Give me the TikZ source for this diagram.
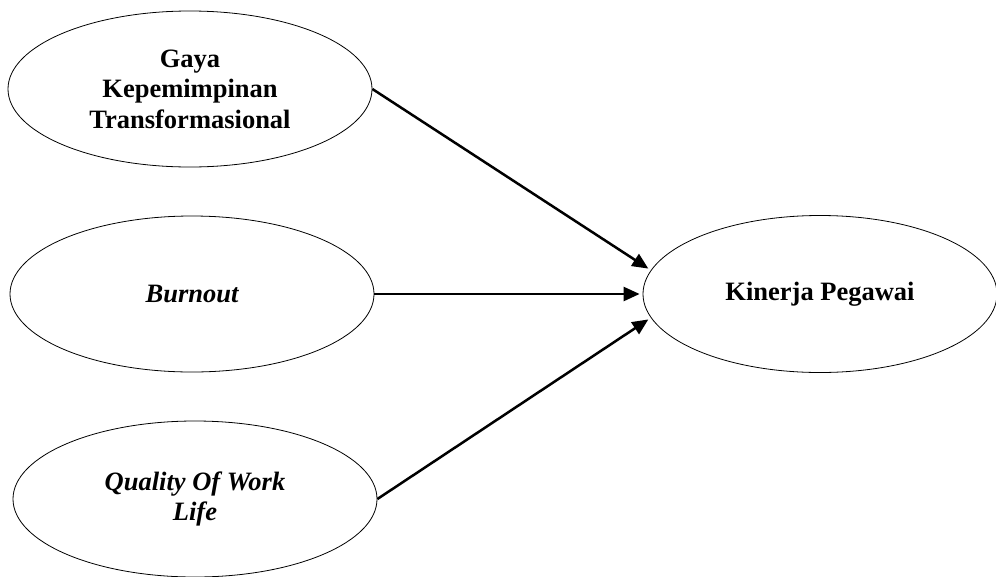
\documentclass[tikz,border=0pt]{standalone}
\usepackage{fontspec}
\setmainfont{Liberation Serif}
\usetikzlibrary{shapes.geometric, arrows.meta}

\tikzset{
  var/.style={ellipse, draw, line width=0.8pt, inner sep=0pt,
    minimum width=364pt, minimum height=156pt, align=center,
    font=\fontsize{26.5}{30.5}\selectfont\bfseries},
  link/.style={-{Triangle[length=16pt,width=14pt]}, line width=2.5pt,
    shorten >=3pt}
}

\begin{document}
\begin{tikzpicture}[x=1pt,y=-1pt]
  \useasboundingbox (0,0) rectangle (996,576);

  % Independent variables
  \node[var] (gaya) at (190,89) {Gaya\\Kepemimpinan\\Transformasional};
  \node[var] (burnout) at (192,294) {\itshape Burnout};
  \node[var] (qwl) at (195,499) {\itshape Quality Of Work\\\itshape Life};

  % Dependent variable
  \node[var, minimum width=354pt, minimum height=157pt] (kinerja) at (820,294) {Kinerja Pegawai};

  % Paths
  \draw[link] (gaya.east) -- (kinerja.172);
  \draw[link] (burnout.east) -- (kinerja.west);
  \draw[link] (qwl.east) -- (kinerja.188);
\end{tikzpicture}
\end{document}
